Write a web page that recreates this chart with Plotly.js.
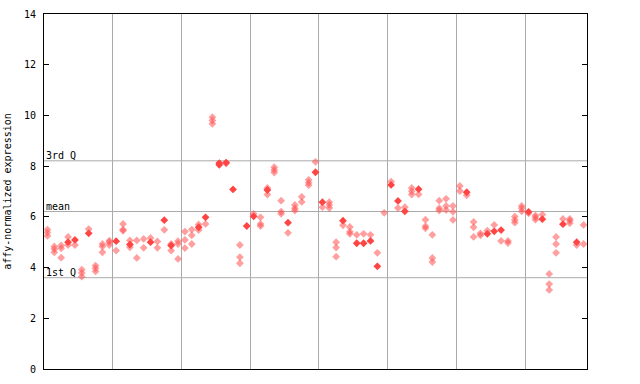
<!DOCTYPE html>
<html>
<head>
<meta charset="utf-8">
<script src="https://cdn.plot.ly/plotly-3.0.1.min.js"></script>
<style>html,body{margin:0;padding:0;background:#fff;}#chart{width:640px;height:384px;}</style>
</head>
<body>
<div id="chart"></div>
<script>
// Per-point sample index and value, split by marker style
const checkeredSample = [0,0,0, 1,1,1, 2,2,2, 3,3, 4, 5,5,5, 6, 7,7,7, 8,8,8, 9,9,9, 10, 11,11,11, 12,12, 13,13, 14,14, 15, 16,16, 17, 18,18, 19,19,19, 20,20,20, 21,21,21, 22,22, 23, 24,24,24, 26, 28,28,28, 30, 31,31,31, 32,32, 33,33,33, 34,34,34, 35, 36,36,36, 37,37, 38,38,38, 39, 40, 41,41,41, 42,42,42, 43, 44,44,44, 45, 46, 47, 48, 49, 50, 51, 52, 53,53,53, 54, 55,55,55, 56,56,56, 57,57,57, 58,58,58, 59,59,59, 60,60, 61, 62,62,62, 63,63, 64, 65, 66, 67,67, 68,68,68, 69,69,69, 70, 71,71,71, 72, 73,73,73, 74,74,74, 75, 76,76,76, 77, 78,78];
const checkeredValue  = [5.5,5.38,5.25, 4.83,4.73,4.6, 4.87,4.76,4.39, 5.21,4.89, 4.89, 3.92,3.79,3.64, 5.52, 4.08,3.97,3.85, 4.93,4.83,4.6, 5.06,5.0,4.89, 4.67, 5.72,5.5,5.45, 5.07,4.8, 5.07,4.38, 5.13,4.78, 5.17, 5.03,4.78, 5.49, 4.93,4.67, 5.04,4.93,4.34, 5.42,5.09,4.77, 5.5,5.27,4.93, 5.7,5.48, 5.72, 9.93,9.8,9.67, 8.1, 4.89,4.41,4.17, 6.12, 5.98,5.72,5.64, 7.14,6.88, 7.96,7.85,7.75, 6.64,6.21,6.12, 5.37, 6.47,6.34,6.25, 6.79,6.59, 7.46,7.35,7.25, 8.17, 6.38, 6.58,6.47,6.35, 5.0,4.79,4.43, 5.67, 5.6,5.41,5.33, 5.29, 5.33, 5.29, 4.58, 6.16, 7.39, 6.35, 6.38, 7.14,7.01,6.88, 6.89, 5.89,5.63,5.55, 5.29,4.38,4.22, 6.64,6.34,6.25, 6.71,6.43,6.27, 6.43,6.2,5.88, 7.22,7.02, 6.85, 5.8,5.59,5.21, 5.35,5.27, 5.46, 5.68, 5.05, 5.05,4.97, 6.01,5.88,5.77, 6.43,6.34,6.22, 6.14, 6.05,5.98,5.89, 6.09, 3.75,3.35,3.12, 5.21,4.93,4.58, 5.92, 5.92,5.85,5.75, 4.89, 5.68,4.93];
const solidSample = [3, 4, 6, 10, 12, 15, 17, 18, 22, 23, 25,25, 26, 27, 29, 30, 32, 35, 39, 40, 43, 45, 46, 47, 48, 50, 51, 52, 54, 61, 64, 65, 66, 70, 72, 75, 77];
const solidValue  = [5.0, 5.09, 5.35, 5.04, 4.91, 5.0, 5.87, 4.87, 5.59, 5.98, 8.12,8.05, 8.14, 7.08, 5.64, 6.02, 7.06, 5.77, 7.76, 6.58, 5.85, 4.96, 4.96, 5.05, 4.05, 7.26, 6.63, 6.22, 7.09, 6.97, 5.33, 5.43, 5.48, 6.2, 5.91, 5.71, 5.0];
const groupBoundaries = [9.5, 19.5, 29.5, 39.5, 49.5, 59.5, 69.5];
const quartileLines = [
  {label: "3rd Q", value: 8.21},
  {label: "mean",  value: 6.21},
  {label: "1st Q", value: 3.60}
];
const yTicks = [0, 2, 4, 6, 8, 10, 12, 14];
const nSamples = 79;

const mono = "DejaVu Sans Mono, monospace";

const traces = [
  {
    type: "scatter", mode: "markers",
    x: checkeredSample, y: checkeredValue,
    marker: {symbol: "diamond", size: 6, color: "rgba(255,80,80,0.55)", line: {width: 0}},
    hoverinfo: "y", showlegend: false
  },
  {
    type: "scatter", mode: "markers",
    x: solidSample, y: solidValue,
    marker: {symbol: "diamond", size: 6, color: "#ff4444", line: {width: 0}},
    hoverinfo: "y", showlegend: false
  }
];

const shapes = quartileLines.map(q => ({
  type: "line", xref: "paper", x0: 0, x1: 1, yref: "y", y0: q.value, y1: q.value,
  line: {color: "#aaaaaa", width: 1}, layer: "below"
}));

const annotations = quartileLines.map(q => ({
  xref: "paper", x: 0, xanchor: "left",
  yref: "y", y: q.value, yanchor: "bottom", yshift: -2,
  text: q.label, showarrow: false,
  font: {family: mono, size: 10, color: "#000"}
}));

const layout = {
  width: 640, height: 384,
  margin: {l: 44, r: 53, t: 14, b: 15, pad: 0},
  paper_bgcolor: "#fff", plot_bgcolor: "#fff",
  xaxis: {
    range: [-0.5, nSamples - 0.5],
    tickvals: groupBoundaries, showticklabels: false, ticks: "",
    showgrid: true, gridcolor: "#aaaaaa", gridwidth: 1,
    showline: true, linecolor: "#000", linewidth: 1, mirror: true,
    zeroline: false, fixedrange: true
  },
  yaxis: {
    range: [0, 14], tickvals: yTicks,
    ticks: "inside", ticklen: 5, tickcolor: "#000",
    ticklabelstandoff: 5,
    showgrid: false, zeroline: false,
    showline: true, linecolor: "#000", linewidth: 1, mirror: "ticks",
    tickfont: {family: mono, size: 10, color: "#000"},
    title: {text: "affy-normalized expression", font: {family: mono, size: 10, color: "#000"}, standoff: 10},
    fixedrange: true
  },
  shapes: shapes,
  annotations: annotations,
  showlegend: false
};

Plotly.newPlot("chart", traces, layout, {displayModeBar: false, staticPlot: true});
</script>
</body>
</html>
